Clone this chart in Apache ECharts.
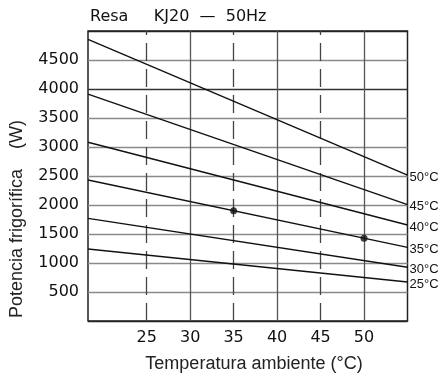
<!DOCTYPE html>
<html>
<head>
<meta charset="utf-8">
<script src="https://cdn.jsdelivr.net/npm/echarts@6/dist/echarts.min.js"></script>
<style>
html,body{margin:0;padding:0;background:#fff;}
#chart{width:443px;height:379px;}
</style>
</head>
<body>
<div id="chart"></div>
<script>
// Data
const isoLabels = ['50°C', '45°C', '40°C', '35°C', '30°C', '25°C'];
const capAtLeft = [4856, 3913, 3081, 2431, 1770, 1241];
const capAtRight = [2515, 2005, 1655, 1270, 926, 672];
const tempRange = [18.25, 55];
const pointTemps = [35, 50];
const pointCaps = [1900, 1425];
const xTicks = [25, 30, 35, 40, 45, 50];
const yTicks = [500, 1000, 1500, 2000, 2500, 3000, 3500, 4000, 4500];
const dashedX = [25, 35, 45];
const solidX = [30, 40, 50];

const chart = echarts.init(document.getElementById('chart'), null, {renderer: 'canvas'});

const lineSeries = isoLabels.map((name, i) => ({
  name: name,
  type: 'line',
  data: [[tempRange[0], capAtLeft[i]], [tempRange[1], capAtRight[i]]],
  symbol: 'none',
  silent: true,
  lineStyle: {color: '#111', width: 1.4},
  endLabel: {
    show: true,
    formatter: '{a}',
    color: '#111',
    fontFamily: 'Liberation Sans',
    fontSize: 13,
    distance: 2,
    offset: [0, 2]
  },
  z: 3
}));

const vLines = dashedX.map(v => ({xAxis: v, lineStyle: {type: [18, 8], color: '#444', width: 1.3}}))
  .concat(solidX.map(v => ({xAxis: v, lineStyle: {type: 'solid', color: '#555', width: 1.3}})));

const option = {
  animation: false,
  backgroundColor: '#fff',
  textStyle: {fontFamily: 'DejaVu Sans'},
  title: {
    text: 'Resa     KJ20  —  50Hz',
    left: 90,
    top: 9,
    padding: 0,
    textStyle: {fontFamily: 'DejaVu Sans', fontSize: 16, fontWeight: 'normal', color: '#111'}
  },
  grid: {
    left: 88, right: 35.5, top: 31, bottom: 58,
    show: true, borderColor: '#222', borderWidth: 1.5, backgroundColor: 'transparent'
  },
  xAxis: {
    type: 'value',
    min: tempRange[0],
    max: tempRange[1],
    axisLine: {show: false},
    axisTick: {show: false},
    splitLine: {show: false},
    axisLabel: {
      customValues: xTicks,
      showMinLabel: true, showMaxLabel: true,
      formatter: v => String(v),
      color: '#111', fontFamily: 'DejaVu Sans', fontSize: 16, margin: 9
    }
  },
  yAxis: {
    type: 'value',
    min: 0,
    max: 5000,
    interval: 500,
    axisLine: {show: false},
    axisTick: {show: false},
    splitLine: {
      show: true,
      lineStyle: {
        color: ['#222', '#8a8a8a', '#8a8a8a', '#8a8a8a', '#8a8a8a', '#8a8a8a', '#8a8a8a', '#8a8a8a', '#333', '#8a8a8a', '#222'],
        width: 1.4
      }
    },
    axisLabel: {
      customValues: yTicks,
      showMinLabel: true, showMaxLabel: true,
      formatter: v => String(v),
      color: '#111', fontFamily: 'DejaVu Sans', fontSize: 16, margin: 9
    }
  },
  graphic: [
    {
      type: 'text', x: 254, y: 364,
      style: {text: 'Temperatura ambiente (°C)', fill: '#222', font: '18px "Liberation Sans"', align: 'center', verticalAlign: 'middle'}
    },
    {
      type: 'text', x: 17, y: 219, rotation: Math.PI / 2,
      style: {text: 'Potencia frigorífica    (W)', fill: '#222', font: '18px "Liberation Sans"', align: 'center', verticalAlign: 'middle'}
    }
  ],
  series: [
    {
      type: 'scatter',
      data: pointTemps.map((t, i) => [t, pointCaps[i]]),
      symbol: 'circle',
      symbolSize: 7,
      itemStyle: {color: '#111'},
      silent: true,
      z: 4,
      markLine: {
        silent: true,
        symbol: 'none',
        label: {show: false},
        data: vLines,
        z: 1
      }
    }
  ].concat(lineSeries)
};
chart.setOption(option);
</script>
</body>
</html>
